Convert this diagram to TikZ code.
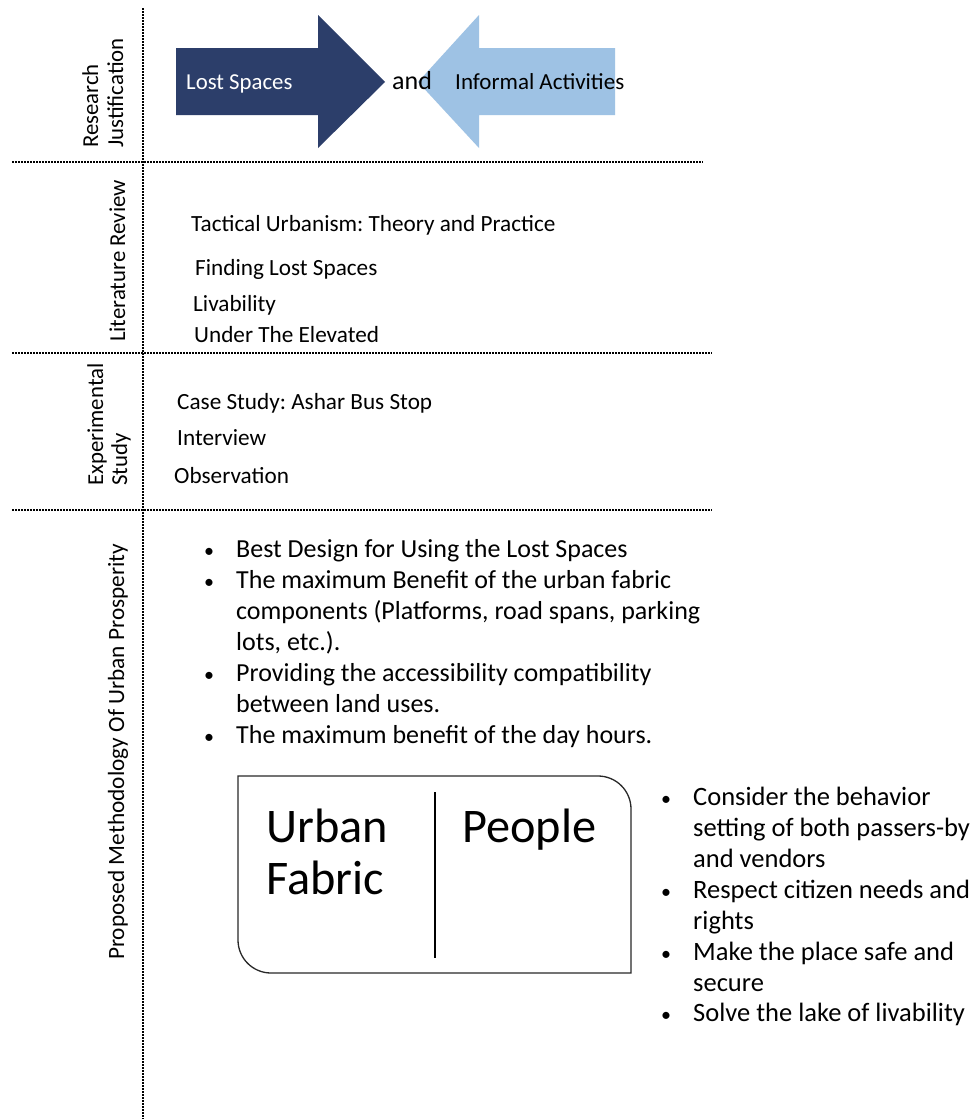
\documentclass[tikz,border=0pt]{standalone}
\usepackage{fontspec}
\setmainfont{Carlito}
\frenchspacing
\definecolor{navyarrow}{RGB}{44,62,106}
\definecolor{skyarrow}{RGB}{158,194,228}
\definecolor{boxline}{RGB}{40,40,40}
\begin{document}
\begin{tikzpicture}[x=1pt,y=-1pt,
  sep/.style={line width=1.6pt, dash pattern=on 1.6pt off 1.4pt},
  txt/.style={inner sep=0pt, anchor=base west},
  lbl/.style={txt, font=\fontsize{23.2}{28}\selectfont},
  side/.style={txt, rotate=90, font=\fontsize{22.8}{27}\selectfont},
  item/.style={txt, font=\fontsize{26}{31}\selectfont},
  ritem/.style={txt, font=\fontsize{26.5}{31}\selectfont},
  dot/.style={txt, font=\fontsize{20}{22}\selectfont},
  big/.style={txt, font=\fontsize{48.3}{52}\selectfont}]
\useasboundingbox[fill=white] (0,0) rectangle (977,1119);

% section separators
\draw[sep] (143,8) -- (143,1119);
\draw[sep] (12,162) -- (703,162);
\draw[sep] (12,353) -- (712,353);
\draw[sep] (12,510) -- (712,510);

% section titles
\node[side] (rj1) at (98,148) {Research};
\node[side] (rj2) at (123,148) {Justification};
\node[side] (lr) at (125,342) {Literature Review};
\node[side] (es1) at (103,486) {Experimental};
\node[side] (es2) at (127,486) {Study};
\node[side, font=\fontsize{23.3}{27}\selectfont] (pm) at (124,960) {Proposed Methodology Of Urban Prosperity};

% research justification: two facing arrows
\fill[navyarrow] (176,48) -- (318,48) -- (318,15) -- (385,82) -- (318,148) -- (318,115) -- (176,115) -- cycle;
\fill[skyarrow] (615,48) -- (479,48) -- (479,15) -- (418,82) -- (479,148) -- (479,115) -- (615,115) -- cycle;
\node[txt, text=white, font=\fontsize{22.8}{28}\selectfont] (lost) at (186,89) {Lost Spaces};
\node[txt, font=\fontsize{26}{31}\selectfont] (and) at (392,89) {and};
\node[txt, font=\fontsize{23}{28}\selectfont] (inf) at (455,89) {Informal Activities};

% literature review
\node[lbl] (l1) at (191,231) {Tactical Urbanism: Theory and Practice};
\node[lbl] (l2) at (195,275) {Finding Lost Spaces};
\node[lbl] (l3) at (193,311) {Livability};
\node[lbl] (l4) at (194,342) {Under The Elevated};

% experimental study
\node[lbl] (e1) at (177,409) {Case Study: Ashar Bus Stop};
\node[lbl] (e2) at (177,445) {Interview};
\node[lbl] (e3) at (174,483) {Observation};

% proposed methodology bullets
\node[dot] (b1) at (204,557) {•};
\node[item] (m1) at (236,557) {Best Design for Using the Lost Spaces};
\node[dot] (b2) at (204,588) {•};
\node[item] (m2a) at (236,588) {The maximum Benefit of the urban fabric};
\node[item] (m2b) at (236,619) {components (Platforms, road spans, parking};
\node[item] (m2c) at (236,650) {lots, etc.).};
\node[dot] (b3) at (204,681) {•};
\node[item] (m3a) at (236,681) {Providing the accessibility compatibility};
\node[item] (m3b) at (236,712) {between land uses.};
\node[dot] (b4) at (204,743) {•};
\node[item] (m4) at (236,743) {The maximum benefit of the day hours.};

% urban fabric / people box
\draw[boxline, line width=1.3pt] (238,776) -- (598,776) arc[start angle=90, end angle=0, radius=33pt]
  -- (631,973) -- (271,973) arc[start angle=270, end angle=180, radius=33pt] -- cycle;
\coordinate (divtop) at (435,792);
\coordinate (divbot) at (435,958);
\draw[line width=1.2pt] (divtop) -- (divbot);
\node[big] (uf1) at (266,842) {Urban};
\node[big] (uf2) at (266,894) {Fabric};
\node[big] (pp) at (462,842) {People};

% people bullets
\node[dot] (c1) at (661,805) {•};
\node[ritem] (p1a) at (693,805) {Consider the behavior};
\node[ritem] (p1b) at (693,836) {setting of both passers-by};
\node[ritem] (p1c) at (693,867) {and vendors};
\node[dot] (c2) at (661,898) {•};
\node[ritem] (p2a) at (693,898) {Respect citizen needs and};
\node[ritem] (p2b) at (693,929) {rights};
\node[dot] (c3) at (661,960) {•};
\node[ritem] (p3a) at (693,960) {Make the place safe and};
\node[ritem] (p3b) at (693,991) {secure};
\node[dot] (c4) at (661,1021) {•};
\node[ritem] (p4) at (693,1021) {Solve the lake of livability};
\end{tikzpicture}
\end{document}
